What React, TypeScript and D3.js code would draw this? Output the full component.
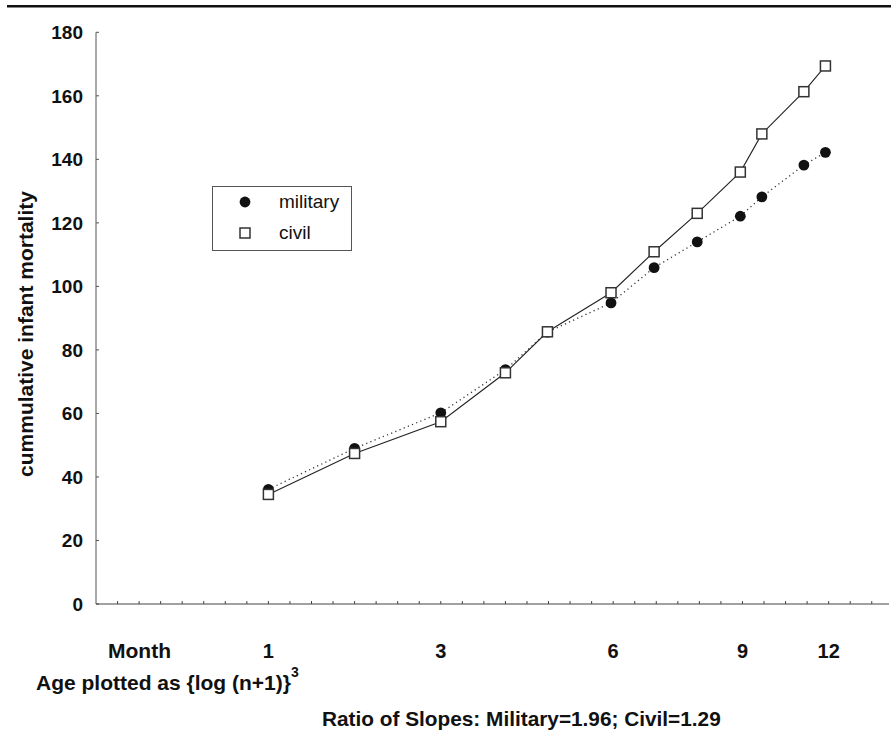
import React, { useRef, useEffect } from "react";
import * as d3 from "d3";

// x positions in axis units ({log(n+1)}^3 scale, one minor tick per unit)
const agePos = [8, 12, 16, 19, 20.95, 23.9, 25.9, 27.9, 29.9, 30.9, 32.85, 33.85];
const military = [36.1, 49.0, 60.2, 73.8, 85.6, 94.8, 105.9, 114.0, 122.1, 128.2, 138.2, 142.2];
const civil = [34.5, 47.4, 57.4, 72.8, 85.7, 98.0, 110.9, 123.0, 136.0, 148.0, 161.3, 169.4];
const monthTicks = [
  { pos: 8, label: "1" },
  { pos: 16, label: "3" },
  { pos: 24, label: "6" },
  { pos: 30, label: "9" },
  { pos: 34, label: "12" },
];
const yTicks = [0, 20, 40, 60, 80, 100, 120, 140, 160, 180];

const W = 891;
const H = 733;
const FONT = "'Liberation Sans', Arial, sans-serif";

export default function App() {
  const ref = useRef<SVGSVGElement>(null);
  useEffect(() => {
    const svg = d3.select(ref.current);
    svg.selectAll("*").remove();

    const x = d3.scaleLinear().domain([0, 36.8]).range([96, 889]);
    const y = d3.scaleLinear().domain([0, 180]).range([604, 32.3]);

    svg.append("rect").attr("width", W).attr("height", H).attr("fill", "#fff");
    // top rule
    svg.append("rect").attr("x", 7).attr("y", 5).attr("width", W - 7).attr("height", 2.5).attr("fill", "#111");

    // y axis
    svg.append("line").attr("x1", x(0)).attr("x2", x(0)).attr("y1", y(180)).attr("y2", y(0))
      .attr("stroke", "#555").attr("stroke-width", 1);
    svg.append("g").selectAll("line").data(yTicks).enter().append("line")
      .attr("x1", x(0)).attr("x2", x(0) + 3).attr("y1", d => y(d)).attr("y2", d => y(d))
      .attr("stroke", "#555");
    svg.append("g").selectAll("text").data(yTicks).enter().append("text")
      .attr("x", 83).attr("y", d => y(d)).attr("dy", "0.36em")
      .attr("text-anchor", "end").attr("font-family", FONT).attr("font-weight", "bold")
      .attr("font-size", 19).attr("fill", "#111").text(d => d);

    // x axis
    svg.append("line").attr("x1", x(0)).attr("x2", x(36.8)).attr("y1", y(0)).attr("y2", y(0))
      .attr("stroke", "#444").attr("stroke-width", 1);
    svg.append("g").selectAll("line").data(d3.range(1, 37)).enter().append("line")
      .attr("x1", d => x(d)).attr("x2", d => x(d)).attr("y1", y(0)).attr("y2", y(0) - 3)
      .attr("stroke", "#444");
    svg.append("g").selectAll("text").data(monthTicks).enter().append("text")
      .attr("x", d => x(d.pos)).attr("y", 658).attr("text-anchor", "middle")
      .attr("font-family", FONT).attr("font-weight", "bold").attr("font-size", 20)
      .attr("fill", "#111").text(d => d.label);

    const bold = (t: string, px: number, py: number, size = 21, anchor = "start") =>
      svg.append("text").attr("x", px).attr("y", py).attr("text-anchor", anchor)
        .attr("font-family", FONT).attr("font-weight", "bold").attr("font-size", size)
        .attr("fill", "#111").text(t);

    bold("Month", 139.5, 658, 21, "middle");
    const age = bold("Age plotted as {log (n+1)}", 36, 690, 21);
    age.append("tspan").attr("dy", -13).attr("font-size", 14).text("3");
    bold("Ratio of Slopes: Military=1.96; Civil=1.29", 322, 726, 20.8);

    svg.append("text")
      .attr("transform", `translate(33,334) rotate(-90)`)
      .attr("text-anchor", "middle").attr("font-family", FONT).attr("font-weight", "bold")
      .attr("font-size", 21).attr("fill", "#111").text("cummulative infant mortality");

    // lines
    const pts = (vals: number[]) => vals.map((v, i) => [x(agePos[i]), y(v)] as [number, number]);
    const line = d3.line();
    svg.append("path").attr("d", line(pts(military))).attr("fill", "none")
      .attr("stroke", "#333").attr("stroke-width", 1.3).attr("stroke-dasharray", "1.2,3.3");
    svg.append("path").attr("d", line(pts(civil))).attr("fill", "none")
      .attr("stroke", "#222").attr("stroke-width", 1.1);

    // markers
    svg.append("g").selectAll("circle").data(pts(military)).enter().append("circle")
      .attr("cx", d => d[0]).attr("cy", d => d[1]).attr("r", 5.4).attr("fill", "#111");
    svg.append("g").selectAll("rect").data(pts(civil)).enter().append("rect")
      .attr("x", d => d[0] - 5).attr("y", d => d[1] - 5).attr("width", 10).attr("height", 10)
      .attr("fill", "#fff").attr("stroke", "#333").attr("stroke-width", 1.5);

    // legend
    const lg = svg.append("g");
    lg.append("rect").attr("x", 212.5).attr("y", 186.5).attr("width", 139).attr("height", 64)
      .attr("fill", "#fff").attr("stroke", "#555").attr("stroke-width", 1);
    lg.append("circle").attr("cx", 245).attr("cy", 202).attr("r", 5.4).attr("fill", "#111");
    lg.append("rect").attr("x", 240).attr("y", 228).attr("width", 10).attr("height", 10)
      .attr("fill", "#fff").attr("stroke", "#333").attr("stroke-width", 1.5);
    lg.append("text").attr("x", 279).attr("y", 208).attr("font-family", FONT)
      .attr("font-size", 19).attr("fill", "#111").text("military");
    lg.append("text").attr("x", 279).attr("y", 239).attr("font-family", FONT)
      .attr("font-size", 19).attr("fill", "#111").text("civil");
  }, []);

  return (
    <svg
      ref={ref}
      width={W}
      height={H}
      style={{ position: "absolute", left: 0, top: 0, display: "block" }}
    />
  );
}
